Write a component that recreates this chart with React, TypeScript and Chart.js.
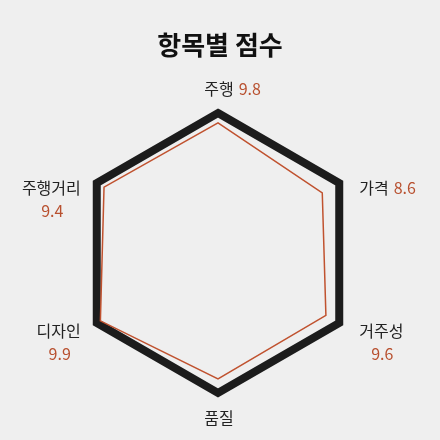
import React, { useEffect, useRef } from "react";
import { Chart, registerables } from "chart.js";

Chart.register(...registerables);

const TITLE = "항목별 점수";
const categories = ["주행", "가격", "거주성", "품질", "디자인", "주행거리"];
const shownValues = ["9.8", "8.6", "9.6", "", "9.9", "9.4"];
const plottedValues = [9.3, 8.6, 8.9, 9.0, 9.7, 9.4];
const scaleMin = 0;
const scaleMax = 10;

const FONT = '"Noto Sans CJK KR", "Noto Sans", sans-serif';
const LABEL_COLOR = "#222222";
const VALUE_COLOR = "#b8502f";

const labelPlugin = {
  id: "customLabels",
  afterDraw(chart: any) {
    const ctx = chart.ctx;
    const scale = chart.scales.r;
    ctx.save();
    // title
    ctx.font = `bold 26px ${FONT}`;
    ctx.fillStyle = "#111111";
    ctx.textAlign = "center";
    ctx.textBaseline = "middle";
    ctx.fillText(TITLE, chart.width / 2, 45);

    ctx.font = `16px ${FONT}`;
    ctx.textBaseline = "middle";
    categories.forEach((name, i) => {
      const v = scale.getPointPosition(i, scale.drawingArea);
      const val = shownValues[i];
      const inline = name.length <= 2;
      const nameW = ctx.measureText(name).width;
      const dx = v.x - scale.xCenter;
      const dy = v.y - scale.yCenter;
      let nameLeft: number;
      let y: number;
      if (Math.abs(dx) < 1) {
        nameLeft = v.x - nameW / 2 + 1;
        y = dy < 0 ? v.y - 24 : v.y + 25;
      } else if (dx > 0) {
        nameLeft = v.x + 20;
        y = v.y + (dy < 0 ? 4.5 : 8);
      } else {
        nameLeft = v.x - 16 - nameW;
        y = v.y + (dy < 0 ? 5 : 8);
      }
      ctx.textAlign = "left";
      ctx.fillStyle = LABEL_COLOR;
      ctx.fillText(name, nameLeft, y);
      if (val) {
        ctx.fillStyle = VALUE_COLOR;
        if (inline) {
          ctx.fillText(val, nameLeft + nameW + 5, y);
        } else {
          ctx.textAlign = "center";
          ctx.fillText(val, nameLeft + nameW / 2 + 1, y + 23);
        }
      }
    });
    ctx.restore();
  },
};

export default function App() {
  const ref = useRef<HTMLCanvasElement | null>(null);
  useEffect(() => {
    if (!ref.current) return;
    const chart = new Chart(ref.current, {
      type: "radar",
      data: {
        labels: categories,
        datasets: [
          {
            data: plottedValues,
            borderColor: "#c0522f",
            borderWidth: 1.5,
            backgroundColor: "transparent",
            fill: false,
            pointRadius: 0,
            pointHoverRadius: 0,
          },
        ],
      },
      options: {
        animation: false,
        responsive: false,
        maintainAspectRatio: false,
        layout: { padding: { left: 78, right: 81, top: 113, bottom: 47 } },
        plugins: {
          legend: { display: false },
          title: { display: false },
          tooltip: { enabled: false },
        },
        scales: {
          r: {
            min: scaleMin,
            max: scaleMax,
            ticks: { display: false, stepSize: 10 },
            angleLines: { display: false },
            pointLabels: { display: false },
            grid: { color: "#1c1c1c", lineWidth: 8 },
          },
        },
      },
      plugins: [labelPlugin],
    });
    return () => chart.destroy();
  }, []);
  return (
    <div
      style={{
        position: "absolute",
        left: 0,
        top: 0,
        width: 440,
        height: 440,
        background: "#efefef",
      }}
    >
      <canvas ref={ref} width={440} height={440} style={{ width: 440, height: 440 }} />
    </div>
  );
}
